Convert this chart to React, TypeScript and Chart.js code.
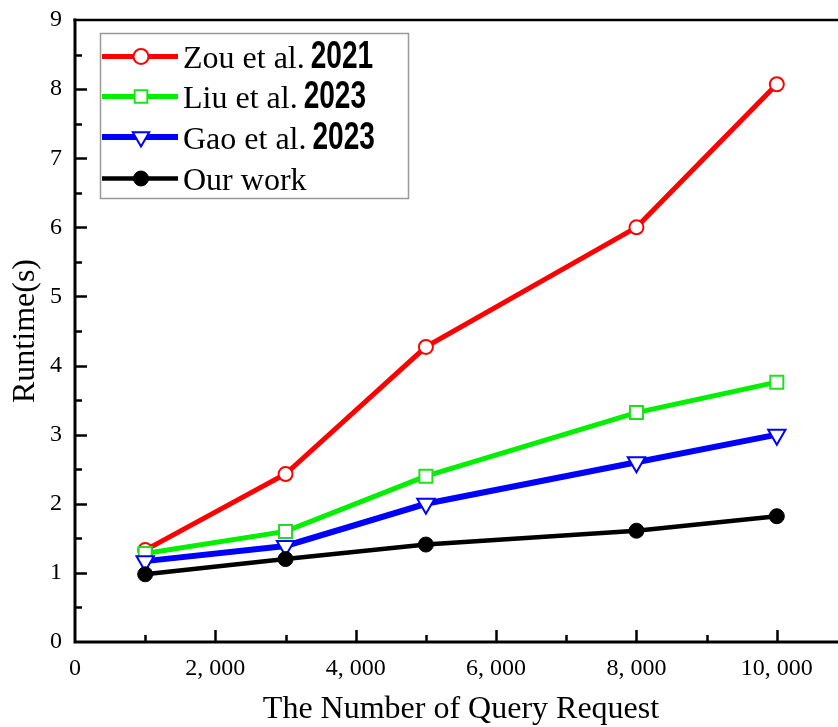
import React, { useEffect, useRef } from 'react';
import { Chart, registerables } from 'chart.js';

Chart.register(...registerables);

// ---- data ----
const xValues = [1000, 3000, 5000, 8000, 10000];
const zouData = [1.33, 2.43, 4.27, 6.0, 8.07];
const liuData = [1.28, 1.6, 2.4, 3.32, 3.76];
const gaoData = [1.17, 1.39, 2.0, 2.6, 3.0];
const ourData = [0.98, 1.2, 1.41, 1.61, 1.82];
const seriesNames = ['Zou et al.', 'Liu et al.', 'Gao et al.', 'Our work'];
const seriesYears = ['2021', '2023', '2023', ''];
const xTickValues = [0, 2000, 4000, 6000, 8000, 10000];
const xTickLabels = ['0', '2, 000', '4, 000', '6, 000', '8, 000', '10, 000'];
const yTickLabels = ['0', '1', '2', '3', '4', '5', '6', '7', '8', '9'];
const xTitle = 'The Number of Query Request';
const yTitle = 'Runtime(s)';

const SERIF = '"Liberation Serif", "Times New Roman", serif';

function toPoints(ys: number[]) {
  return xValues.map((x, i) => ({ x, y: ys[i] }));
}

function drawMarker(
  ctx: CanvasRenderingContext2D,
  style: string,
  x: number,
  y: number,
  r: number,
  stroke: string,
  fill: string,
  lw: number
) {
  ctx.save();
  ctx.beginPath();
  if (style === 'circle') {
    ctx.arc(x, y, r, 0, Math.PI * 2);
  } else if (style === 'rect') {
    const s = r * Math.SQRT1_2;
    ctx.rect(x - s, y - s, 2 * s, 2 * s);
  } else if (style === 'triangle') {
    let a = Math.PI;
    for (let k = 0; k < 3; k++) {
      const px = x + Math.sin(a) * r;
      const py = y - Math.cos(a) * r;
      if (k === 0) ctx.moveTo(px, py);
      else ctx.lineTo(px, py);
      a += (2 * Math.PI) / 3;
    }
    ctx.closePath();
  }
  ctx.fillStyle = fill;
  ctx.fill();
  ctx.lineWidth = lw;
  ctx.strokeStyle = stroke;
  ctx.stroke();
  ctx.restore();
}

const framePlugin = {
  id: 'frame',
  afterDraw(chart: any) {
    const { ctx, chartArea, scales } = chart;
    const { left, right, top, bottom } = chartArea;
    const xs = scales.x;
    const ys = scales.y;
    ctx.save();
    ctx.strokeStyle = '#000';
    ctx.lineCap = 'butt';
    ctx.lineWidth = 2.5;
    ctx.beginPath();
    for (let v = 1000; v <= 11000; v += 1000) {
      const px = Math.round(xs.getPixelForValue(v)) + 0.5;
      const len = v % 2000 === 0 ? 12 : 7;
      ctx.moveTo(px, bottom);
      ctx.lineTo(px, bottom - len);
    }
    for (let v = 0.5; v < 9; v += 0.5) {
      const py = Math.round(ys.getPixelForValue(v)) + 0.5;
      const len = Number.isInteger(v) ? 12 : 7;
      ctx.moveTo(left, py);
      ctx.lineTo(left + len, py);
    }
    ctx.stroke();
    ctx.lineWidth = 3;
    ctx.beginPath();
    ctx.moveTo(left, top - 1.5);
    ctx.lineTo(left, bottom + 1.5);
    ctx.moveTo(left - 1.5, bottom);
    ctx.lineTo(right, bottom);
    ctx.stroke();
    ctx.lineWidth = 2.5;
    ctx.beginPath();
    ctx.moveTo(left - 1.5, top);
    ctx.lineTo(right, top);
    ctx.stroke();
    ctx.restore();
  },
};

const legendPlugin = {
  id: 'customLegend',
  afterDraw(chart: any) {
    const ctx: CanvasRenderingContext2D = chart.ctx;
    const bx = 100;
    const by = 33;
    const bw = 308;
    const bh = 165;
    ctx.save();
    ctx.fillStyle = '#fff';
    ctx.fillRect(bx, by, bw, bh);
    ctx.strokeStyle = '#9a9a9a';
    ctx.lineWidth = 1.5;
    ctx.strokeRect(bx + 0.5, by + 0.5, bw, bh);
    const rows = [56.5, 96.5, 137, 178.5];
    chart.data.datasets.forEach((ds: any, i: number) => {
      const ry = rows[i];
      ctx.beginPath();
      ctx.strokeStyle = ds.borderColor;
      ctx.lineWidth = ds.borderWidth;
      ctx.moveTo(102, ry);
      ctx.lineTo(178, ry);
      ctx.stroke();
      const st = ds.pointStyle;
      const r = st === 'circle' ? 7.5 : st === 'rect' ? 9 : 9.5;
      drawMarker(ctx, st, 141, ry, r, ds.pointBorderColor, ds.pointBackgroundColor, ds.pointBorderWidth);
      ctx.fillStyle = '#000';
      ctx.textBaseline = 'alphabetic';
      ctx.textAlign = 'left';
      ctx.font = `32px ${SERIF}`;
      const name = seriesNames[i];
      ctx.fillText(name, 183, ry + 11.5);
      const w = ctx.measureText(name).width;
      const year = seriesYears[i];
      if (year) {
        ctx.save();
        ctx.translate(183 + w + 6, ry + 11.5);
        ctx.scale(0.72, 1);
        ctx.font = 'bold 39px "Liberation Sans", Arial, sans-serif';
        ctx.fillText(year, 0, 0);
        ctx.restore();
      }
    });
    ctx.restore();
  },
};

export default function App() {
  const canvasRef = useRef<HTMLCanvasElement | null>(null);

  useEffect(() => {
    if (!canvasRef.current) return;
    const chart = new Chart(canvasRef.current, {
      type: 'line',
      data: {
        datasets: [
          {
            label: seriesNames[0],
            data: toPoints(zouData),
            borderColor: '#ff0000',
            borderWidth: 5,
            pointStyle: 'circle',
            pointRadius: 7,
            pointBackgroundColor: '#fff',
            pointBorderColor: '#ff0000',
            pointBorderWidth: 2,
            order: 4,
          },
          {
            label: seriesNames[1],
            data: toPoints(liuData),
            borderColor: '#00f000',
            borderWidth: 5,
            pointStyle: 'rect',
            pointRadius: 9.2,
            pointBackgroundColor: '#fff',
            pointBorderColor: '#22dd22',
            pointBorderWidth: 2,
            order: 3,
          },
          {
            label: seriesNames[2],
            data: toPoints(gaoData),
            borderColor: '#0000ff',
            borderWidth: 6,
            pointStyle: 'triangle',
            pointRotation: 180,
            pointRadius: 10,
            pointBackgroundColor: '#fff',
            pointBorderColor: '#0000ff',
            pointBorderWidth: 2,
            order: 2,
          },
          {
            label: seriesNames[3],
            data: toPoints(ourData),
            borderColor: '#000',
            borderWidth: 4.5,
            pointStyle: 'circle',
            pointRadius: 7.5,
            pointBackgroundColor: '#000',
            pointBorderColor: '#000',
            pointBorderWidth: 1,
            order: 1,
          },
        ],
      },
      options: {
        responsive: false,
        animation: false,
        devicePixelRatio: 1,
        layout: { padding: { top: 20, right: 13, left: 0, bottom: 0 } },
        plugins: {
          legend: { display: false },
          tooltip: { enabled: false },
          title: { display: false },
        },
        elements: { line: { tension: 0 } },
        scales: {
          x: {
            type: 'linear',
            min: 0,
            max: 11000,
            grid: { display: false, drawTicks: false },
            border: { display: false },
            ticks: {
              stepSize: 1000,
              autoSkip: false,
              maxRotation: 0,
              padding: 12,
              color: '#000',
              font: { family: SERIF, size: 24 },
              callback: (v: any) => {
                const idx = xTickValues.indexOf(Number(v));
                return idx >= 0 ? xTickLabels[idx] : '';
              },
            },
            title: {
              display: true,
              text: xTitle,
              color: '#000',
              font: { family: SERIF, size: 32, lineHeight: 1 },
              padding: { top: 0, bottom: 1 },
            },
            afterFit: (s: any) => {
              s.height = 85;
            },
          },
          y: {
            type: 'linear',
            min: 0,
            max: 9,
            grid: { display: false, drawTicks: false },
            border: { display: false },
            ticks: {
              stepSize: 1,
              padding: 13,
              color: '#000',
              font: { family: SERIF, size: 24, lineHeight: 0.4 },
              callback: (v: any) => yTickLabels[Number(v)] ?? '',
            },
            title: {
              display: true,
              text: yTitle,
              color: '#000',
              font: { family: SERIF, size: 32, lineHeight: 1 },
              padding: { top: 10, bottom: 0 },
            },
            afterFit: (s: any) => {
              s.width = 75;
            },
          },
        },
      } as any,
      plugins: [framePlugin, legendPlugin],
    });
    return () => chart.destroy();
  }, []);

  return (
    <div
      style={{
        position: 'absolute',
        left: 0,
        top: 0,
        width: 838,
        height: 727,
        overflow: 'hidden',
        background: '#fff',
      }}
    >
      <canvas ref={canvasRef} width={860} height={727} style={{ display: 'block' }} />
    </div>
  );
}
